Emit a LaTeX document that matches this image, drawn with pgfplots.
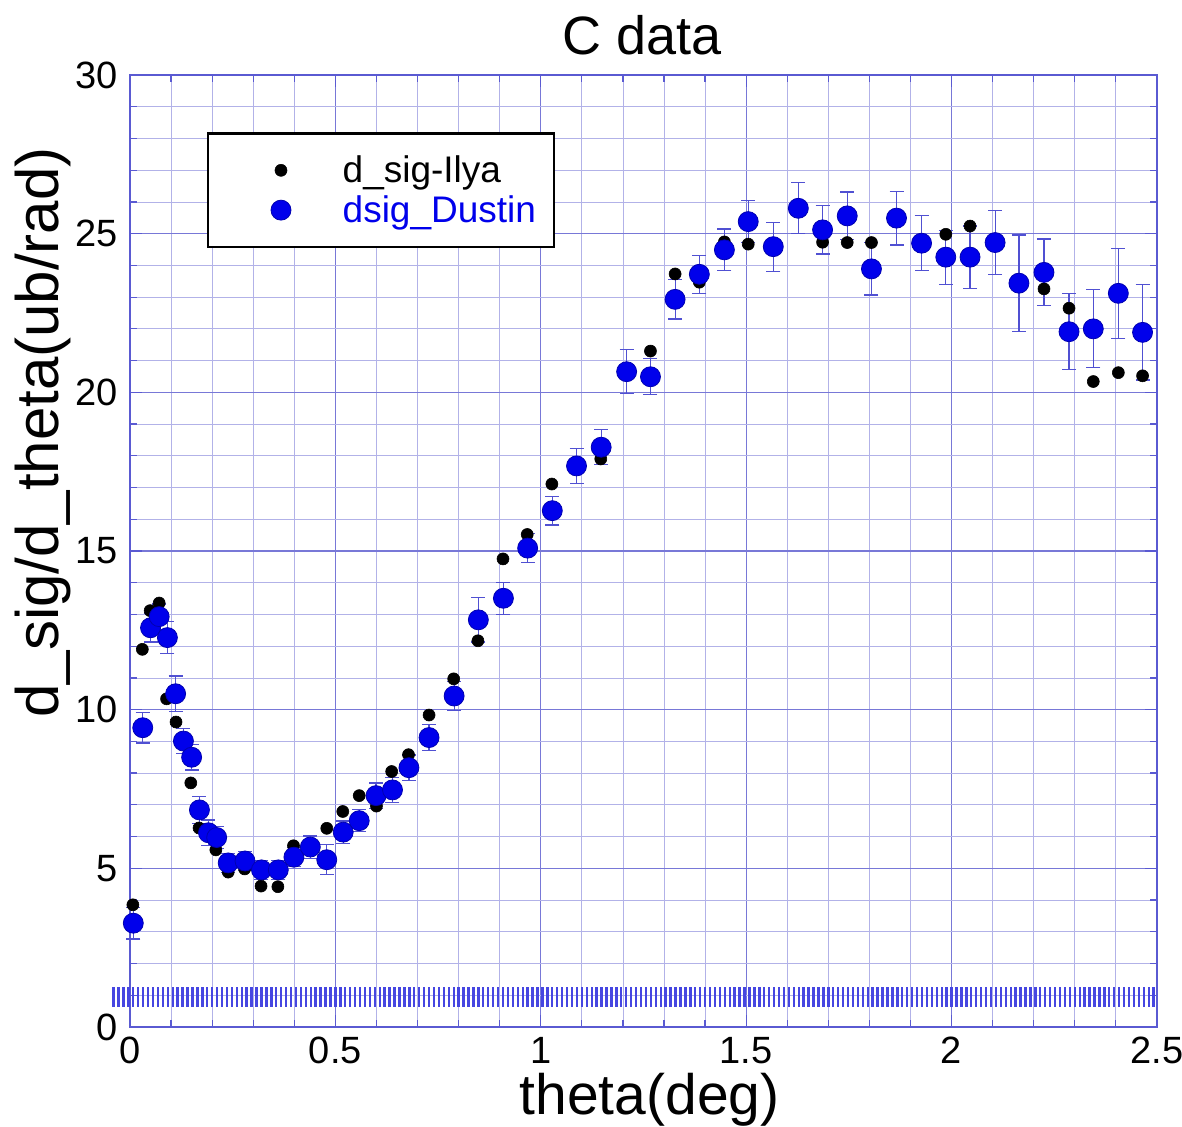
\documentclass[border=0pt]{standalone}
\usepackage{pgfplots}
\pgfplotsset{compat=1.18}
\usepackage{fontspec}
\setmainfont{Liberation Sans}
\definecolor{gridmaj}{RGB}{120,120,215}
\definecolor{gridmin}{RGB}{178,178,232}
\definecolor{frame}{RGB}{90,90,210}
\definecolor{dotblue}{RGB}{0,0,235}
\definecolor{errblue}{RGB}{80,80,210}
\definecolor{bandblue}{RGB}{70,70,225}
\begin{document}
\begin{tikzpicture}
\begin{axis}[
  scale only axis, width=513.5pt, height=476pt,
  xmin=0, xmax=2.5, ymin=0, ymax=30,
  xtick={0,0.5,1,1.5,2,2.5}, ytick={0,5,10,15,20,25,30},
  minor x tick num=4, minor y tick num=4,
  grid=both,
  major grid style={draw=gridmaj, line width=0.55pt},
  minor grid style={draw=gridmin, line width=0.4pt},
  axis line style={draw=frame, line width=0.7pt},
  tick style={draw=frame, line width=0.6pt},
  tick align=inside, major tick length=6pt, minor tick length=3.5pt,
  xtick pos=both, ytick pos=both,
  /pgf/number format/assume math mode=true,
  ticklabel style={font=\fontsize{19}{22}\selectfont, inner sep=1pt},
  xticklabel style={yshift=-4pt},
  yticklabel style={xshift=-5pt},
  title={C data},
  title style={font=\fontsize{27}{32}\selectfont, at={(axis description cs:0.4985,1.009)}, anchor=base},
  xlabel={theta(deg)},
  xlabel style={font=\fontsize{28.5}{34}\selectfont, inner sep=0pt, at={(axis description cs:0.506,-0.0915)}, anchor=base},
  ylabel={d\_sig/d\_theta(ub/rad)},
  ylabel style={font=\fontsize{30}{36}\selectfont, inner sep=0pt, at={(axis description cs:-0.070,0.6245)}, anchor=base},
  clip=false,
  legend cell align=left,
  legend style={at={(axis cs:0.187,28.2)}, anchor=north west, draw=black, line width=1.3pt,
    font=\fontsize{18.5}{22}\selectfont, inner xsep=7pt, inner ysep=9pt, row sep=1pt,
    /tikz/every even column/.append style={column sep=1pt}},
  legend image code/.code={\path (-37pt,0) (20pt,0); \draw[#1] plot coordinates {(0pt,0pt)};},
]
% band of bars near y = 1
\addplot[forget plot, draw=none, mark=none,
  error bars/.cd, y dir=both, y explicit,
  error bar style={draw=bandblue, line width=1.2pt}, error mark=none]
table[x index=0, y index=1, y error index=2] {
-0.040 0.945 0.315
-0.028 0.945 0.315
-0.016 0.945 0.315
-0.004 0.945 0.315
0.008 0.945 0.315
0.020 0.945 0.315
0.032 0.945 0.315
0.044 0.945 0.315
0.056 0.945 0.315
0.068 0.945 0.315
0.080 0.945 0.315
0.092 0.945 0.315
0.104 0.945 0.315
0.116 0.945 0.315
0.128 0.945 0.315
0.140 0.945 0.315
0.152 0.945 0.315
0.164 0.945 0.315
0.176 0.945 0.315
0.188 0.945 0.315
0.200 0.945 0.315
0.212 0.945 0.315
0.224 0.945 0.315
0.236 0.945 0.315
0.248 0.945 0.315
0.260 0.945 0.315
0.272 0.945 0.315
0.284 0.945 0.315
0.296 0.945 0.315
0.308 0.945 0.315
0.320 0.945 0.315
0.332 0.945 0.315
0.344 0.945 0.315
0.356 0.945 0.315
0.368 0.945 0.315
0.380 0.945 0.315
0.392 0.945 0.315
0.404 0.945 0.315
0.416 0.945 0.315
0.428 0.945 0.315
0.440 0.945 0.315
0.452 0.945 0.315
0.464 0.945 0.315
0.476 0.945 0.315
0.488 0.945 0.315
0.500 0.945 0.315
0.512 0.945 0.315
0.524 0.945 0.315
0.536 0.945 0.315
0.548 0.945 0.315
0.560 0.945 0.315
0.572 0.945 0.315
0.584 0.945 0.315
0.596 0.945 0.315
0.608 0.945 0.315
0.620 0.945 0.315
0.632 0.945 0.315
0.644 0.945 0.315
0.656 0.945 0.315
0.668 0.945 0.315
0.680 0.945 0.315
0.692 0.945 0.315
0.704 0.945 0.315
0.716 0.945 0.315
0.728 0.945 0.315
0.740 0.945 0.315
0.752 0.945 0.315
0.764 0.945 0.315
0.776 0.945 0.315
0.788 0.945 0.315
0.800 0.945 0.315
0.812 0.945 0.315
0.824 0.945 0.315
0.836 0.945 0.315
0.848 0.945 0.315
0.860 0.945 0.315
0.872 0.945 0.315
0.884 0.945 0.315
0.896 0.945 0.315
0.908 0.945 0.315
0.920 0.945 0.315
0.932 0.945 0.315
0.944 0.945 0.315
0.956 0.945 0.315
0.968 0.945 0.315
0.980 0.945 0.315
0.992 0.945 0.315
1.004 0.945 0.315
1.016 0.945 0.315
1.028 0.945 0.315
1.040 0.945 0.315
1.052 0.945 0.315
1.064 0.945 0.315
1.076 0.945 0.315
1.088 0.945 0.315
1.100 0.945 0.315
1.112 0.945 0.315
1.124 0.945 0.315
1.136 0.945 0.315
1.148 0.945 0.315
1.160 0.945 0.315
1.172 0.945 0.315
1.184 0.945 0.315
1.196 0.945 0.315
1.208 0.945 0.315
1.220 0.945 0.315
1.232 0.945 0.315
1.244 0.945 0.315
1.256 0.945 0.315
1.268 0.945 0.315
1.280 0.945 0.315
1.292 0.945 0.315
1.304 0.945 0.315
1.316 0.945 0.315
1.328 0.945 0.315
1.340 0.945 0.315
1.352 0.945 0.315
1.364 0.945 0.315
1.376 0.945 0.315
1.388 0.945 0.315
1.400 0.945 0.315
1.412 0.945 0.315
1.424 0.945 0.315
1.436 0.945 0.315
1.448 0.945 0.315
1.460 0.945 0.315
1.472 0.945 0.315
1.484 0.945 0.315
1.496 0.945 0.315
1.508 0.945 0.315
1.520 0.945 0.315
1.532 0.945 0.315
1.544 0.945 0.315
1.556 0.945 0.315
1.568 0.945 0.315
1.580 0.945 0.315
1.592 0.945 0.315
1.604 0.945 0.315
1.616 0.945 0.315
1.628 0.945 0.315
1.640 0.945 0.315
1.652 0.945 0.315
1.664 0.945 0.315
1.676 0.945 0.315
1.688 0.945 0.315
1.700 0.945 0.315
1.712 0.945 0.315
1.724 0.945 0.315
1.736 0.945 0.315
1.748 0.945 0.315
1.760 0.945 0.315
1.772 0.945 0.315
1.784 0.945 0.315
1.796 0.945 0.315
1.808 0.945 0.315
1.820 0.945 0.315
1.832 0.945 0.315
1.844 0.945 0.315
1.856 0.945 0.315
1.868 0.945 0.315
1.880 0.945 0.315
1.892 0.945 0.315
1.904 0.945 0.315
1.916 0.945 0.315
1.928 0.945 0.315
1.940 0.945 0.315
1.952 0.945 0.315
1.964 0.945 0.315
1.976 0.945 0.315
1.988 0.945 0.315
2.000 0.945 0.315
2.012 0.945 0.315
2.024 0.945 0.315
2.036 0.945 0.315
2.048 0.945 0.315
2.060 0.945 0.315
2.072 0.945 0.315
2.084 0.945 0.315
2.096 0.945 0.315
2.108 0.945 0.315
2.120 0.945 0.315
2.132 0.945 0.315
2.144 0.945 0.315
2.156 0.945 0.315
2.168 0.945 0.315
2.180 0.945 0.315
2.192 0.945 0.315
2.204 0.945 0.315
2.216 0.945 0.315
2.228 0.945 0.315
2.240 0.945 0.315
2.252 0.945 0.315
2.264 0.945 0.315
2.276 0.945 0.315
2.288 0.945 0.315
2.300 0.945 0.315
2.312 0.945 0.315
2.324 0.945 0.315
2.336 0.945 0.315
2.348 0.945 0.315
2.360 0.945 0.315
2.372 0.945 0.315
2.384 0.945 0.315
2.396 0.945 0.315
2.408 0.945 0.315
2.420 0.945 0.315
2.432 0.945 0.315
2.444 0.945 0.315
2.456 0.945 0.315
2.468 0.945 0.315
2.480 0.945 0.315
2.492 0.945 0.315
};
% Ilya
\addplot[only marks, mark=*, mark size=3pt, mark options={fill=black, draw=black, line width=0.3pt}]
coordinates {
(0.007,3.85) (0.030,11.90) (0.049,13.12) (0.071,13.36) (0.089,10.34) (0.112,9.61)
(0.130,8.95) (0.148,7.69) (0.168,6.27) (0.190,6.05) (0.209,5.58) (0.239,4.88)
(0.279,4.98) (0.319,4.44) (0.360,4.42) (0.398,5.71) (0.439,5.75) (0.479,6.26)
(0.518,6.79) (0.558,7.29) (0.600,6.96) (0.637,8.05) (0.678,8.58) (0.728,9.83)
(0.788,10.97) (0.847,12.17) (0.908,14.75) (0.967,15.52) (1.027,17.11) (1.087,17.70)
(1.146,17.90) (1.208,20.60) (1.267,21.30) (1.327,23.73) (1.386,23.47) (1.447,24.74)
(1.505,24.67) (1.566,24.60) (1.627,25.80) (1.686,24.73) (1.746,24.72) (1.805,24.72)
(1.866,25.50) (1.927,24.70) (1.986,24.98) (2.045,25.24) (2.106,24.70) (2.164,23.35)
(2.225,23.26) (2.286,22.65) (2.345,20.34) (2.406,20.62) (2.465,20.52)
};
\addlegendentry{d\_sig-Ilya}
% Dustin
\addplot[only marks, mark=*, mark size=5pt, mark options={fill=dotblue, draw=dotblue!75!black, line width=0.4pt},
  error bars/.cd, y dir=both, y explicit,
  error bar style={draw=errblue, line width=0.6pt},
  error mark options={rotate=90, mark size=3.5pt, draw=errblue, line width=0.6pt}]
coordinates {
(0.008,3.27) +- (0,0.50)
(0.031,9.43) +- (0,0.48)
(0.050,12.58) +- (0,0.45)
(0.071,12.93) +- (0,0.40)
(0.091,12.27) +- (0,0.50)
(0.111,10.50) +- (0,0.56)
(0.130,9.01) +- (0,0.40)
(0.150,8.50) +- (0,0.40)
(0.169,6.84) +- (0,0.42)
(0.191,6.12) +- (0,0.40)
(0.211,5.97) +- (0,0.35)
(0.239,5.17) +- (0,0.30)
(0.280,5.23) +- (0,0.30)
(0.320,4.95) +- (0,0.30)
(0.361,4.95) +- (0,0.30)
(0.399,5.35) +- (0,0.30)
(0.439,5.67) +- (0,0.35)
(0.479,5.27) +- (0,0.47)
(0.519,6.14) +- (0,0.35)
(0.558,6.50) +- (0,0.35)
(0.599,7.29) +- (0,0.40)
(0.639,7.47) +- (0,0.40)
(0.679,8.17) +- (0,0.40)
(0.728,9.12) +- (0,0.40)
(0.789,10.43) +- (0,0.45)
(0.848,12.83) +- (0,0.70)
(0.909,13.51) +- (0,0.50)
(0.968,15.09) +- (0,0.45)
(1.028,16.27) +- (0,0.45)
(1.087,17.68) +- (0,0.56)
(1.147,18.27) +- (0,0.55)
(1.209,20.65) +- (0,0.69)
(1.267,20.49) +- (0,0.57)
(1.327,22.93) +- (0,0.62)
(1.386,23.72) +- (0,0.60)
(1.447,24.49) +- (0,0.66)
(1.505,25.38) +- (0,0.66)
(1.566,24.59) +- (0,0.77)
(1.627,25.80) +- (0,0.80)
(1.686,25.12) +- (0,0.76)
(1.746,25.56) +- (0,0.75)
(1.805,23.89) +- (0,0.82)
(1.866,25.49) +- (0,0.85)
(1.927,24.70) +- (0,0.86)
(1.986,24.26) +- (0,0.85)
(2.045,24.26) +- (0,0.98)
(2.106,24.72) +- (0,1.00)
(2.164,23.44) +- (0,1.52)
(2.225,23.78) +- (0,1.05)
(2.286,21.91) +- (0,1.20)
(2.345,22.00) +- (0,1.23)
(2.406,23.12) +- (0,1.42)
(2.465,21.89) +- (0,1.50)
};
\addlegendentry{\textcolor{dotblue}{dsig\_Dustin}}
\coordinate (bbl) at (rel axis cs:-0.1266,-0.105);
\coordinate (btr) at (rel axis cs:1.0244,1.0788);
\end{axis}
\pgfresetboundingbox
\path[use as bounding box] (bbl) rectangle (btr);
\end{tikzpicture}
\end{document}
